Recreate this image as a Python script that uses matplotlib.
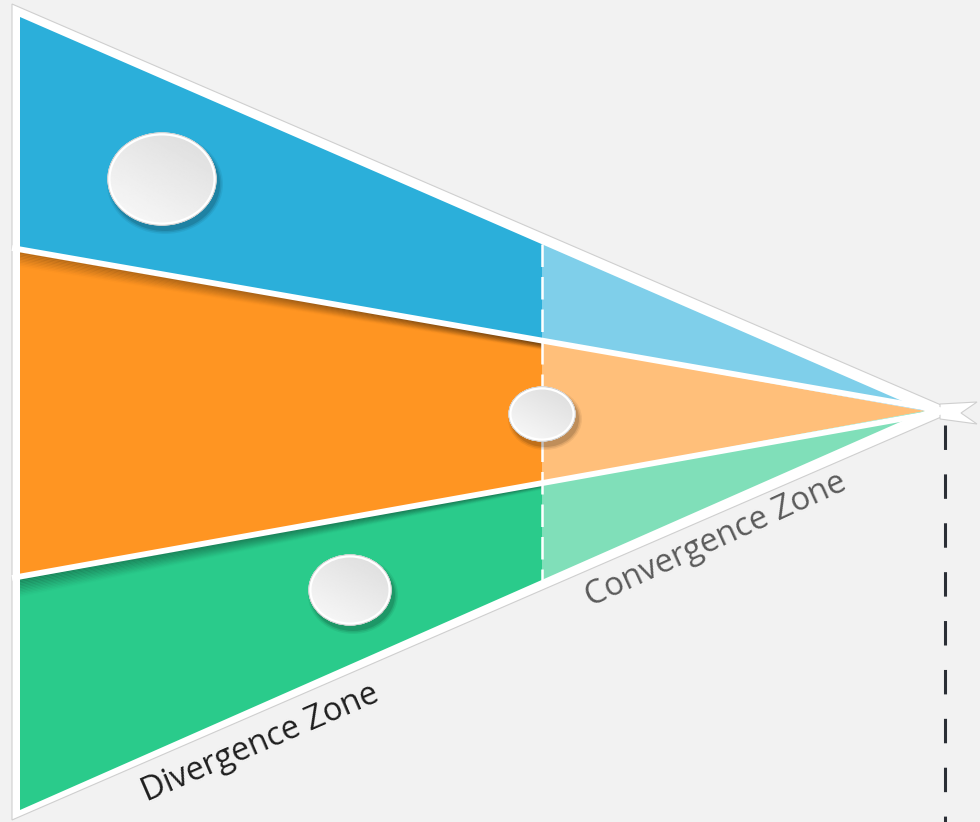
import matplotlib.pyplot as plt
import numpy as np
from matplotlib.patches import Polygon, Ellipse

# zones and their colours (dark = divergence side, light = convergence side)
zone_names = ["Divergence Zone", "Convergence Zone"]
dark_colors = ["#2BAFDA", "#FF9522", "#2ACB8B"]
light_colors = ["#7FCFEA", "#FFBF7A", "#80DFB9"]

# left edge boundaries of the three bands, split line and apex (pixel units)
left_x = 20
bounds = [17, 248, 578, 810]
split_x = 542
apex = (925, 411)

# knobs: centre x, centre y, width, height
knobs = [(162, 179, 106, 90), (542, 414, 64, 52), (350, 590, 80, 68)]

W, H = 980, 822
fig = plt.figure(figsize=(W / 100, H / 100), dpi=100)
fig.patch.set_facecolor("#F2F2F2")
ax = fig.add_axes([0, 0, 1, 1])
ax.set_xlim(0, W)
ax.set_ylim(H, 0)
ax.axis("off")
ax.set_facecolor("#F2F2F2")


def y_at(b, x):
    t = (x - left_x) / (apex[0] - left_x)
    return b + t * (apex[1] - b)


# white frame with thin grey outline
frame = Polygon([(12, 4), (12, 820), (955, 411)], closed=True,
                facecolor="white", edgecolor="#cfcfcf", lw=0.8, zorder=1)
ax.add_patch(frame)
# fish tail at apex
tail = Polygon([(940, 404), (977, 402), (961, 413), (977, 424), (940, 419)],
               closed=True, facecolor="white", edgecolor="#cfcfcf", lw=0.8, zorder=1)
ax.add_patch(tail)

for i in range(3):
    b0, b1 = bounds[i], bounds[i + 1]
    dark = Polygon([(left_x, b0), (split_x, y_at(b0, split_x)),
                    (split_x, y_at(b1, split_x)), (left_x, b1)],
                   closed=True, facecolor=dark_colors[i], edgecolor="none", zorder=2)
    light = Polygon([(split_x, y_at(b0, split_x)), apex, (split_x, y_at(b1, split_x))],
                    closed=True, facecolor=light_colors[i], edgecolor="none", zorder=2)
    ax.add_patch(dark)
    ax.add_patch(light)
    # soft shadow under the upper edge of each band
    if i > 0:
        for k, a in zip(range(1, 13), np.linspace(0.22, 0.01, 12)):
            ln, = ax.plot([left_x, split_x], [b0 + k * 1.5, y_at(b0, split_x) + k * 1.5 * 0.4],
                          color="black", alpha=a, lw=1.6, solid_capstyle="butt", zorder=3)
            ln.set_clip_path(dark)

# white separators between bands
for b in bounds[1:3]:
    ax.plot([left_x - 8, 945], [b, apex[1]], color="white", lw=4.2,
            solid_capstyle="butt", zorder=4)

# dashed split line
ax.plot([split_x, split_x], [y_at(bounds[0], split_x), y_at(bounds[3], split_x)],
        color="white", lw=1.8, dashes=(9, 4), zorder=4)

# knobs
yy, xx = np.mgrid[0:1:100j, 0:1:100j]
grad = 0.86 + 0.12 * (yy * 0.6 + (1 - xx) * 0.4)
for cx, cy, w, h in knobs:
    for s, a in zip([10, 7, 4], [0.06, 0.09, 0.12]):
        ax.add_patch(Ellipse((cx + 3, cy + 5), w + s, h + s, facecolor="black",
                             alpha=a, edgecolor="none", zorder=5))
    e = Ellipse((cx, cy), w, h, facecolor="#EDEDED", edgecolor="white", lw=2.2, zorder=6)
    ax.add_patch(e)
    im = ax.imshow(grad, cmap="gray", vmin=0, vmax=1, extent=(cx - w / 2, cx + w / 2, cy + h / 2, cy - h / 2),
                   zorder=6.5, interpolation="bilinear", aspect="auto")
    im.set_clip_path(e)
    ax.add_patch(Ellipse((cx, cy), w, h, facecolor="none", edgecolor="white", lw=2.2, zorder=7))
    ax.add_patch(Ellipse((cx, cy), w + 2.5, h + 2.5, facecolor="none", edgecolor="#c8c8c8", lw=0.6, zorder=7))

ax.set_xlim(0, W)
ax.set_ylim(H, 0)

# zone labels along the outer edge
ax.text(260, 743, zone_names[0], rotation=23.4, ha="center", va="center",
        fontsize=23.5, color="#1e1e1e", family=["Open Sans", "DejaVu Sans"], zorder=8)
ax.text(716, 540, zone_names[1], rotation=24.6, ha="center", va="center",
        fontsize=23.5, color="#5a5a5a", family=["Open Sans", "DejaVu Sans"], zorder=8)

# vertical dashed guide below the apex
ax.plot([945, 945], [425, 822], color="#2b2f36", lw=2.2, dashes=(8, 8), zorder=2)

fig.savefig("out.png", dpi=100, facecolor=fig.get_facecolor())
